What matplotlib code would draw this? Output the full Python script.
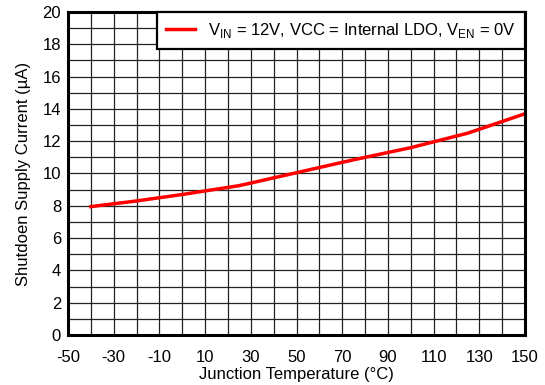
import matplotlib
matplotlib.use("Agg")
import matplotlib.pyplot as plt
import numpy as np

plt.rcParams['font.family'] = ['Liberation Sans', 'DejaVu Sans']
plt.rcParams['axes.unicode_minus'] = False

# Shutdown supply current vs junction temperature
temp_c = [-40, -20, 0, 25, 50, 75, 100, 125, 150]
current_ua = [7.95, 8.3, 8.7, 9.25, 10.05, 10.85, 11.6, 12.5, 13.7]

x_ticks = [-50, -30, -10, 10, 30, 50, 70, 90, 110, 130, 150]
y_ticks = [0, 2, 4, 6, 8, 10, 12, 14, 16, 18, 20]

fig = plt.figure(figsize=(5.45, 3.85), dpi=100)
ax = fig.add_axes([68 / 545, 1 - 335 / 385, (525 - 68) / 545, (335 - 12) / 385])

ax.plot(temp_c, current_ua, color='#ff0000', linewidth=2.5,
        label=r'V$_\mathregular{IN}$ = 12V, VCC = Internal LDO, V$_\mathregular{EN}$ = 0V')

ax.set_xlim(-50, 150)
ax.set_ylim(0, 20)
ax.set_xticks(x_ticks)
ax.set_yticks(y_ticks)
ax.set_xticks(np.arange(-50, 151, 10), minor=True)
ax.set_yticks(np.arange(0, 21, 1), minor=True)
ax.grid(which='both', color='#222222', linewidth=0.9)
ax.set_axisbelow(True)
ax.tick_params(which='both', length=0, labelsize=12)
ax.tick_params(axis='x', pad=11)
ax.tick_params(axis='y', pad=5)

for s in ax.spines.values():
    s.set_linewidth(2.2)
    s.set_color('black')

ax.set_xlabel('Junction Temperature (°C)', fontsize=12, labelpad=1)
ax.set_ylabel('Shutdoen Supply Current (µA)', fontsize=12, labelpad=8)

leg = ax.legend(loc='upper right', borderaxespad=0, fontsize=12, fancybox=False,
                framealpha=1, edgecolor='black', handlelength=1.7, borderpad=0.55)
leg.get_frame().set_linewidth(1.6)

fig.savefig('out.png', dpi=100)
